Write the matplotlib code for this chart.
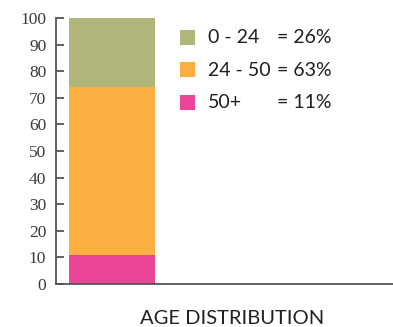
import matplotlib
matplotlib.use("Agg")
import matplotlib.pyplot as plt
from matplotlib.patches import Rectangle

# age groups, bottom to top of the stack
groups = ["50+", "24 - 50", "0 - 24"]
shares = [11, 63, 26]
colors = ["#EC4497", "#FBAF40", "#B0B57A"]

# legend order (top to bottom)
legend_groups = ["0 - 24", "24 - 50", "50+"]
legend_shares = [26, 63, 11]
legend_colors = ["#B0B57A", "#FBAF40", "#EC4497"]

yticks = list(range(0, 101, 10))
title = "AGE DISTRIBUTION"


def main():
    fig = plt.figure(figsize=(3.93, 3.27), dpi=100)
    ax = fig.add_axes([0.1425, 0.1315, 0.8575, 0.8135])

    bottom = 0
    for val, col in zip(shares, colors):
        ax.bar(0, val, width=1.0, bottom=bottom, color=col, linewidth=0)
        bottom += val

    ax.set_xlim(-0.651, 3.268)
    ax.set_ylim(0, 100)
    ax.set_yticks(yticks)
    ax.set_xticks([])
    for s in ["top", "right"]:
        ax.spines[s].set_visible(False)
    for s in ["left", "bottom"]:
        ax.spines[s].set_color("#555555")
        ax.spines[s].set_linewidth(1.3)
    ax.tick_params(axis="y", direction="in", length=6, width=1.3,
                   color="#555555", labelcolor="#3a3a3a", pad=7)
    for lab in ax.get_yticklabels():
        lab.set_fontfamily("Liberation Serif")
        lab.set_fontsize(12.5)

    # legend drawn by hand so the "=" signs line up
    W, H = 393, 327
    for i, (g, v, c) in enumerate(zip(legend_groups, legend_shares, legend_colors)):
        ytop = 30 + i * 32.5
        fig.add_artist(Rectangle((180 / W, 1 - (ytop + 15) / H), 15 / W, 15 / H,
                                 transform=fig.transFigure, color=c, lw=0))
        yc = 1 - (ytop + 7.5) / H
        fig.text(208 / W, yc, g, fontsize=14, family="Lato", color="#1e1e1e",
                 va="center", ha="left")
        fig.text(277 / W, yc, "= %d%%" % v, fontsize=14, family="Lato",
                 color="#1e1e1e", va="center", ha="left")

    fig.text(232 / W, 1 - 319 / H, title, fontsize=14.5, family="Lato",
             color="#222222", ha="center", va="center")

    fig.savefig("out.png", dpi=100)


if __name__ == "__main__":
    main()
